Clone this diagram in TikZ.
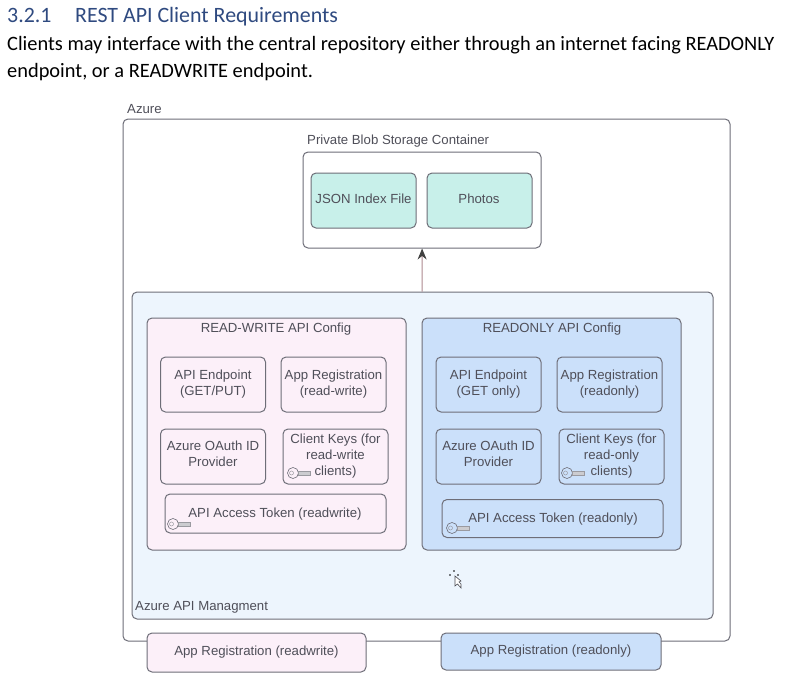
\documentclass[tikz,border=0pt]{standalone}
\usepackage{fontspec}
\usepackage{xcolor}
\setmainfont{Liberation Sans}
\newfontfamily\docfont{Carlito}
\usetikzlibrary{positioning,arrows.meta}
\definecolor{edgegrey}{HTML}{6E6E78}
\definecolor{textgrey}{HTML}{4F4F59}
\definecolor{headblue}{HTML}{2F4A80}
\definecolor{rwpink}{HTML}{FCF0F9}
\definecolor{roblue}{HTML}{CBE0FA}
\definecolor{mgmtblue}{HTML}{EDF5FD}
\definecolor{teal}{HTML}{C8F0EA}
\begin{document}
\begin{tikzpicture}[x=1pt, y=-1pt, auto]
    % Define styles
    \tikzstyle{frame} = [rectangle, rounded corners=5pt, draw=edgegrey, line width=1pt, inner sep=0pt, text=textgrey]
    \tikzstyle{cell} = [frame, minimum width=105pt, minimum height=55pt, align=center, font=\fontsize{13.2}{16}\selectfont]
    \tikzstyle{token} = [frame, minimum width=221pt, minimum height=38pt]
    \tikzstyle{caption} = [inner sep=0pt, text=textgrey, align=center, font=\fontsize{13.2}{16}\selectfont]
    \tikzstyle{arrow} = [line width=1pt, draw=edgegrey!80!red!70!white, -{Stealth[length=11pt,width=9pt,color=black!75]}]
    \tikzset{keyicon/.pic={
        \draw [edgegrey, line width=0.6pt] (0,0) circle (5.5pt);
        \draw [edgegrey!70, line width=0.5pt] (-1.5,0) circle (2pt);
        \draw [edgegrey!70, fill=edgegrey!35, line width=0.5pt] (5,-1.8) rectangle (17,1.8);
    }}

    \useasboundingbox (0,0) rectangle (790,683);
    \fill [white] (0,0) rectangle (790,683);

    % Document text
    \node (sec_num) [anchor=base west, inner sep=0pt, text=headblue, font=\docfont\fontsize{21.9}{24}\selectfont] at (7,22) {3.2.1};
    \node (sec_title) [anchor=base west, inner sep=0pt, text=headblue, font=\docfont\fontsize{21.9}{24}\selectfont] at (75,22) {REST API Client Requirements};
    \node (body_one) [anchor=base west, inner sep=0pt, font=\docfont\fontsize{20.4}{24}\selectfont] at (7,50) {Clients may interface with the central repository either through an internet facing READONLY};
    \node (body_two) [anchor=base west, inner sep=0pt, font=\docfont\fontsize{20.4}{24}\selectfont] at (7,77) {endpoint, or a READWRITE endpoint.};

    % Containers
    \node (azure) [frame, minimum width=607pt, minimum height=522pt] at (426.5,380) {};
    \node (azure_label) [caption, anchor=west] at (127,109) {Azure};
    \node (blob) [frame, fill=white, minimum width=238pt, minimum height=96pt] at (422,200) {};
    \node (blob_label) [caption, anchor=west] at (307,141) {Private Blob Storage Container};
    \node (mgmt) [frame, fill=mgmtblue, minimum width=581pt, minimum height=327pt] at (422.5,455.5) {};
    \node (mgmt_label) [caption, anchor=west] at (135,607.5) {Azure API Managment};

    % Blob contents
    \node (json_file) [cell, fill=teal] at (363.5,200.5) {};
    \node (json_label) [caption] at (363.5,198.5) {JSON Index File};
    \node (photos) [cell, fill=teal, right=10pt of json_file] {};
    \node (photos_label) [caption] at (479,198.5) {Photos};

    % Read-write config
    \node (rw_config) [frame, fill=rwpink, minimum width=259pt, minimum height=232pt] at (276.5,434) {};
    \node (rw_label) [caption] at (276,329.5) {READ-WRITE API Config};
    \node (rw_endpoint) [cell] at (213,384.5) {API Endpoint\\(GET/PUT)};
    \node (rw_appreg) [cell, right=14.5pt of rw_endpoint] {App Registration\\(read-write)};
    \node (rw_oauth) [cell, below=16pt of rw_endpoint] {};
    \node (rw_oauth_label) [caption] at (213,454) {Azure OAuth ID\\Provider};
    \node (rw_keys) [cell, below=16pt of rw_appreg, xshift=2pt] {Client Keys (for\\read-write\\clients)};
    \node (rw_token) [token, minimum height=39pt] at (275.5,513.5) {};
    \node (rw_token_label) [caption] at (275,514) {API Access Token (readwrite)};
    \pic at (293,473) {keyicon};
    \pic at (173,524) {keyicon};

    % Readonly config
    \node (ro_config) [frame, fill=roblue, minimum width=259pt, minimum height=232pt] at (551.5,434) {};
    \node (ro_label) [caption] at (552,329.5) {READONLY API Config};
    \node (ro_endpoint) [cell] at (488.5,384.5) {API Endpoint\\(GET only)};
    \node (ro_appreg) [cell, right=15pt of ro_endpoint] {App Registration\\(readonly)};
    \node (ro_oauth) [cell, below=16pt of ro_endpoint] {};
    \node (ro_oauth_label) [caption] at (488.5,454) {Azure OAuth ID\\Provider};
    \node (ro_keys) [cell, below=16pt of ro_appreg, xshift=2pt] {Client Keys (for\\read-only\\clients)};
    \node (ro_token) [token] at (552.5,518.5) {};
    \node (ro_token_label) [caption] at (553,519) {API Access Token (readonly)};
    \pic at (567,473) {keyicon};
    \pic at (452,528) {keyicon};

    % App registrations on the Azure edge
    \node (app_rw) [frame, fill=rwpink, minimum width=219pt, minimum height=39pt, font=\fontsize{13.2}{16}\selectfont] at (256.5,652.5) {App Registration (readwrite)};
    \node (app_ro) [frame, fill=roblue, minimum width=220pt, minimum height=37pt, font=\fontsize{13.2}{16}\selectfont] at (551,651.5) {App Registration (readonly)};

    % Arrows
    \draw [arrow] (mgmt) -- (blob);

    % Mouse pointer
    \draw [edgegrey!70!black, line width=0.6pt, fill=white] (455,576) -- (455,586) -- (457.5,584) -- (461,588) -- (461,584) -- (459,582) -- (461,581) -- cycle;
    \fill [black] (450,575) circle (0.8pt) (454,571) circle (0.8pt) (458,575) circle (0.8pt);
\end{tikzpicture}
\end{document}
